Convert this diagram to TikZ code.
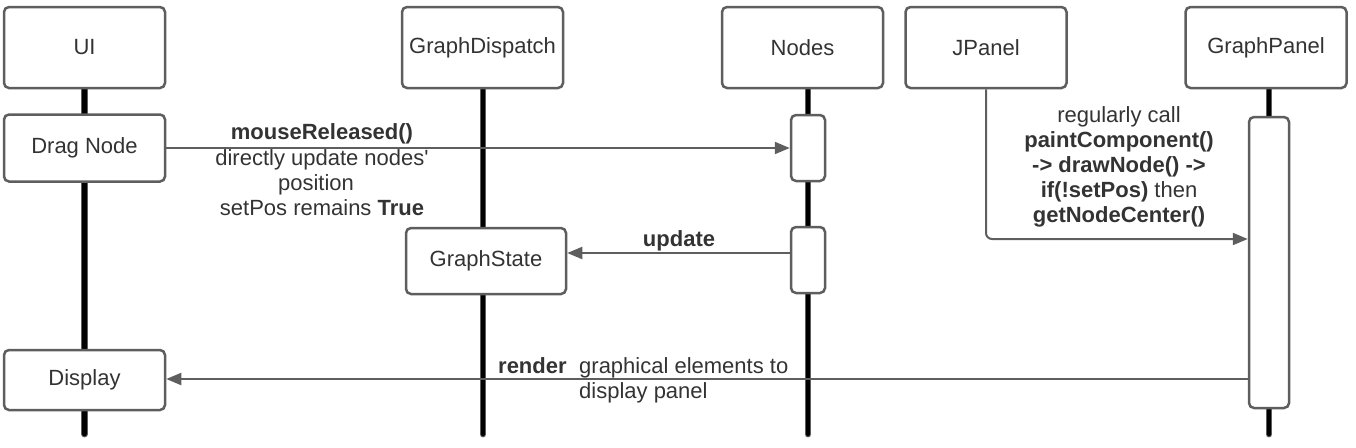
\documentclass[tikz,border=0pt]{standalone}
\usepackage{fontspec}
\setmainfont{Liberation Sans}
\usetikzlibrary{arrows.meta}
\definecolor{edge}{HTML}{5E5E5E}
\definecolor{txt}{HTML}{333333}
\begin{document}
\begin{tikzpicture}[x=1pt,y=-1pt,
  font=\fontsize{22}{25.5}\selectfont,
  every node/.style={text=txt},
  box/.style={draw=edge, line width=2.5pt, rounded corners=5pt, fill=white,
     minimum width=161pt, inner sep=0pt},
  headbox/.style={box, minimum height=81pt},
  actbox/.style={draw=edge, line width=2.5pt, rounded corners=5pt, fill=white,
     minimum width=34pt, inner sep=0pt},
  life/.style={draw=edge, double=black, double distance=4.5pt, line width=1.2pt, line cap=round},
  arr/.style={draw=edge, line width=2pt, -{Triangle[length=15pt,width=12pt]}},
  lbl/.style={inner sep=0pt, anchor=base}
]
\useasboundingbox (0,0) rectangle (1356,447);

% lifelines
\coordinate (uiEnd) at (84.5,434);
\coordinate (gdEnd) at (483,434);
\coordinate (ndEnd) at (808,434);
\coordinate (gpEnd) at (1269,434);
\draw[life] (84.5,88) -- (uiEnd);
\draw[life] (483,88) -- (gdEnd);
\draw[life] (808,88) -- (ndEnd);
\draw[life] (1269,88) -- (gpEnd);

% head boxes
\node[headbox] (ui) at (84.5,47.5) {UI};
\node[headbox] (gd) at (482.5,47.5) {GraphDispatch};
\node[headbox] (nodes) at (802.5,47.5) {Nodes};
\node[headbox] (jp) at (986,47.5) {JPanel};
\node[headbox] (gp) at (1266,47.5) {GraphPanel};

% other boxes
\node[box, minimum height=67pt] (dn) at (84.5,148) {Drag Node};
\node[box, minimum height=60pt] (disp) at (84.5,380) {Display};
\node[box, minimum width=160pt, minimum height=66pt] (gs) at (486,261) {GraphState};

% activation boxes
\node[actbox, minimum height=66pt] (act1) at (808,148) {};
\node[actbox, minimum height=66pt] (act2) at (808,260) {};
\node[actbox, minimum width=40pt, minimum height=291pt] (gpact) at (1269,262.5) {};

% messages
\draw[arr] (dn.east) -- (act1.west);
\draw[arr] ([yshift=7pt]act2.west) -- ([yshift=7pt]act2.west -| gs.east);
\draw[arr, rounded corners=6pt] (jp.south) |- ([yshift=23.5pt]gpact.west);
\draw[arr] ([yshift=-116.5pt]gpact.west) -- ([yshift=-116.5pt]gpact.west -| disp.east);

% labels
\node[lbl, font=\fontsize{22}{25.5}\selectfont\bfseries] (m1) at (322,139) {mouseReleased()};
\node[lbl] (m2) at (322,165) {directly update nodes\textquotesingle};
\node[lbl] (m3) at (316,190) {position};
\node[lbl] (m4) at (322,215) {setPos remains \textbf{True}};

\node[lbl, font=\fontsize{22}{25.5}\selectfont\bfseries] (u1) at (679,246) {update};

\node[lbl] (j1) at (1119,122) {regularly call};
\node[lbl, font=\fontsize{22}{25.5}\selectfont\bfseries] (j2) at (1119,147) {paintComponent()};
\node[lbl, font=\fontsize{22}{25.5}\selectfont\bfseries] (j3) at (1119,172) {-> drawNode() ->};
\node[lbl] (j4) at (1119,197) {\textbf{if(!setPos)} then};
\node[lbl, font=\fontsize{22}{25.5}\selectfont\bfseries] (j5) at (1119,222) {getNodeCenter()};

\node[lbl, anchor=base west, font=\fontsize{22}{25.5}\selectfont\bfseries] (r1) at (498,373) {render};
\node[lbl, anchor=base west] (r2) at (579,373) {graphical elements to};
\node[lbl, anchor=base west] (r3) at (579,398) {display panel};
\end{tikzpicture}
\end{document}
